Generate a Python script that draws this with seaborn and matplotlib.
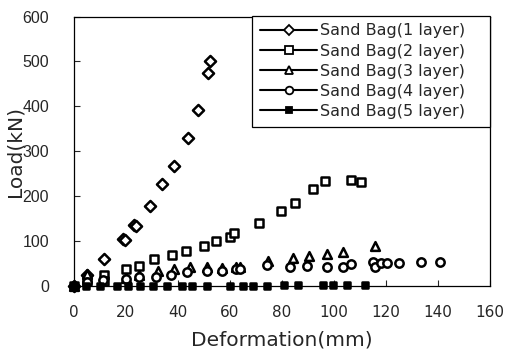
import pandas as pd
import matplotlib
matplotlib.use("Agg")
import matplotlib.pyplot as plt
import seaborn as sns
from matplotlib.lines import Line2D

# -------- data --------
LABELS = ["Sand Bag(1 layer)", "Sand Bag(2 layer)", "Sand Bag(3 layer)",
          "Sand Bag(4 layer)", "Sand Bag(5 layer)"]

bag1_x = [0, 4.9, 11.4, 18.7, 19.8, 23.2, 24.0, 29.2, 34.0, 38.5, 43.7, 47.6, 51.7, 52.3]
bag1_y = [0, 24, 60, 104, 102, 135, 134, 179, 228, 267, 330, 392, 474, 500]

bag2_x = [0, 4.9, 11.4, 11.4, 19.9, 25.0, 30.9, 37.6, 43.0, 49.9, 54.5, 60.0, 61.4,
          71.0, 79.6, 85.0, 91.9, 96.7, 106.5, 110.6]
bag2_y = [0, 10, 24, 12, 37, 45, 60, 68, 77, 90, 100, 108, 118,
          140, 167, 185, 215, 233, 236, 232]

bag3_x = [0, 4.9, 19.9, 25.0, 32.2, 38.6, 44.5, 51.2, 57.0, 62.2, 63.8,
          74.7, 84.4, 90.4, 97.4, 103.6, 115.8]
bag3_y = [0, 27, 18, 24, 34, 38, 42, 43, 41, 43, 43,
          56, 63, 66, 72, 76, 89]

bag4_x = [0, 4.9, 11.3, 19.9, 25.0, 31.4, 37.3, 43.3, 51.2, 56.8, 62.2, 63.8,
          74.1, 83.3, 89.5, 97.4, 103.6, 106.5, 115.1, 115.8, 118.3, 120.3,
          125.1, 133.5, 140.8]
bag4_y = [0, 8, 13, 15, 19, 19, 24, 30, 33, 33, 37, 37,
          47, 42, 45, 42, 42, 49, 54, 43, 52, 52,
          51, 54, 53]

bag5_x = [0, 4.6, 10.0, 16.4, 20.9, 25.4, 30.5, 35.6, 41.4, 45.3, 51.0, 60.0,
          64.9, 69.0, 74.1, 80.8, 86.3, 95.9, 99.5, 104.9, 111.9]
bag5_y = [0, 0, 0, 0, 0, 0, 0, 0, 0, 0, 0, 0,
          0, 0, 0, 1, 2, 2, 3, 3, 3]

series = [(bag1_x, bag1_y), (bag2_x, bag2_y), (bag3_x, bag3_y),
          (bag4_x, bag4_y), (bag5_x, bag5_y)]

frames = []
for label, (xs, ys) in zip(LABELS, series):
    frames.append(pd.DataFrame({"Deformation": xs, "Load": ys, "Series": label}))
df = pd.concat(frames, ignore_index=True)

MARKERS = {LABELS[0]: "D", LABELS[1]: "s", LABELS[2]: "^", LABELS[3]: "o", LABELS[4]: "s"}
SIZES = {LABELS[0]: 32, LABELS[1]: 40, LABELS[2]: 40, LABELS[3]: 36, LABELS[4]: 18}
FACES = {LABELS[0]: "white", LABELS[1]: "white", LABELS[2]: "white",
         LABELS[3]: "white", LABELS[4]: "black"}

sns.set_style("ticks")
plt.rcParams["font.family"] = ["DejaVu Sans"]

fig = plt.figure(figsize=(5.05, 3.53), dpi=100)
ax = fig.add_axes([0.1465, 0.19, 0.8235, 0.763])

for label in LABELS:
    sub = df[df["Series"] == label]
    sns.scatterplot(data=sub, x="Deformation", y="Load", ax=ax,
                    marker=MARKERS[label], s=SIZES[label],
                    facecolor=FACES[label], edgecolor="black",
                    linewidth=1.8, clip_on=False, zorder=3, legend=False)

ax.set_xlim(0, 160)
ax.set_ylim(0, 600)
ax.set_xticks(range(0, 161, 20))
ax.set_yticks(range(0, 601, 100))
ax.tick_params(direction="in", length=4, width=0.8)
ax.tick_params(axis="x", pad=14, labelsize=11)
ax.tick_params(axis="y", pad=18, labelsize=11.5)
for t in ax.get_yticklabels():
    t.set_family(["Liberation Sans", "DejaVu Sans"])
for sp in ax.spines.values():
    sp.set_visible(True)
    sp.set_color("black")
    sp.set_linewidth(0.9)
ax.set_xlabel("Deformation(mm)", fontsize=14.5, labelpad=7)
ax.set_ylabel("Load(kN)", fontsize=14.5)
ax.yaxis.set_label_coords(-0.118, 0.5)

handles = []
for label in LABELS:
    handles.append(Line2D([0], [0], color="black", lw=1.5,
                          marker=MARKERS[label], markersize=5.5 if label != LABELS[4] else 4.5,
                          markerfacecolor=FACES[label], markeredgecolor="black",
                          markeredgewidth=1.3))
leg = ax.legend(handles, LABELS, loc="upper left", mode="expand",
                bbox_to_anchor=(0.428, 0.0, 0.572, 1.004), fontsize=11.5,
                frameon=True, fancybox=False, edgecolor="black",
                handlelength=3.6, handletextpad=0.15, labelspacing=0.32,
                borderpad=0.5, borderaxespad=0.0, framealpha=1)
leg.get_frame().set_linewidth(0.9)

plt.savefig("out.png", dpi=100)
